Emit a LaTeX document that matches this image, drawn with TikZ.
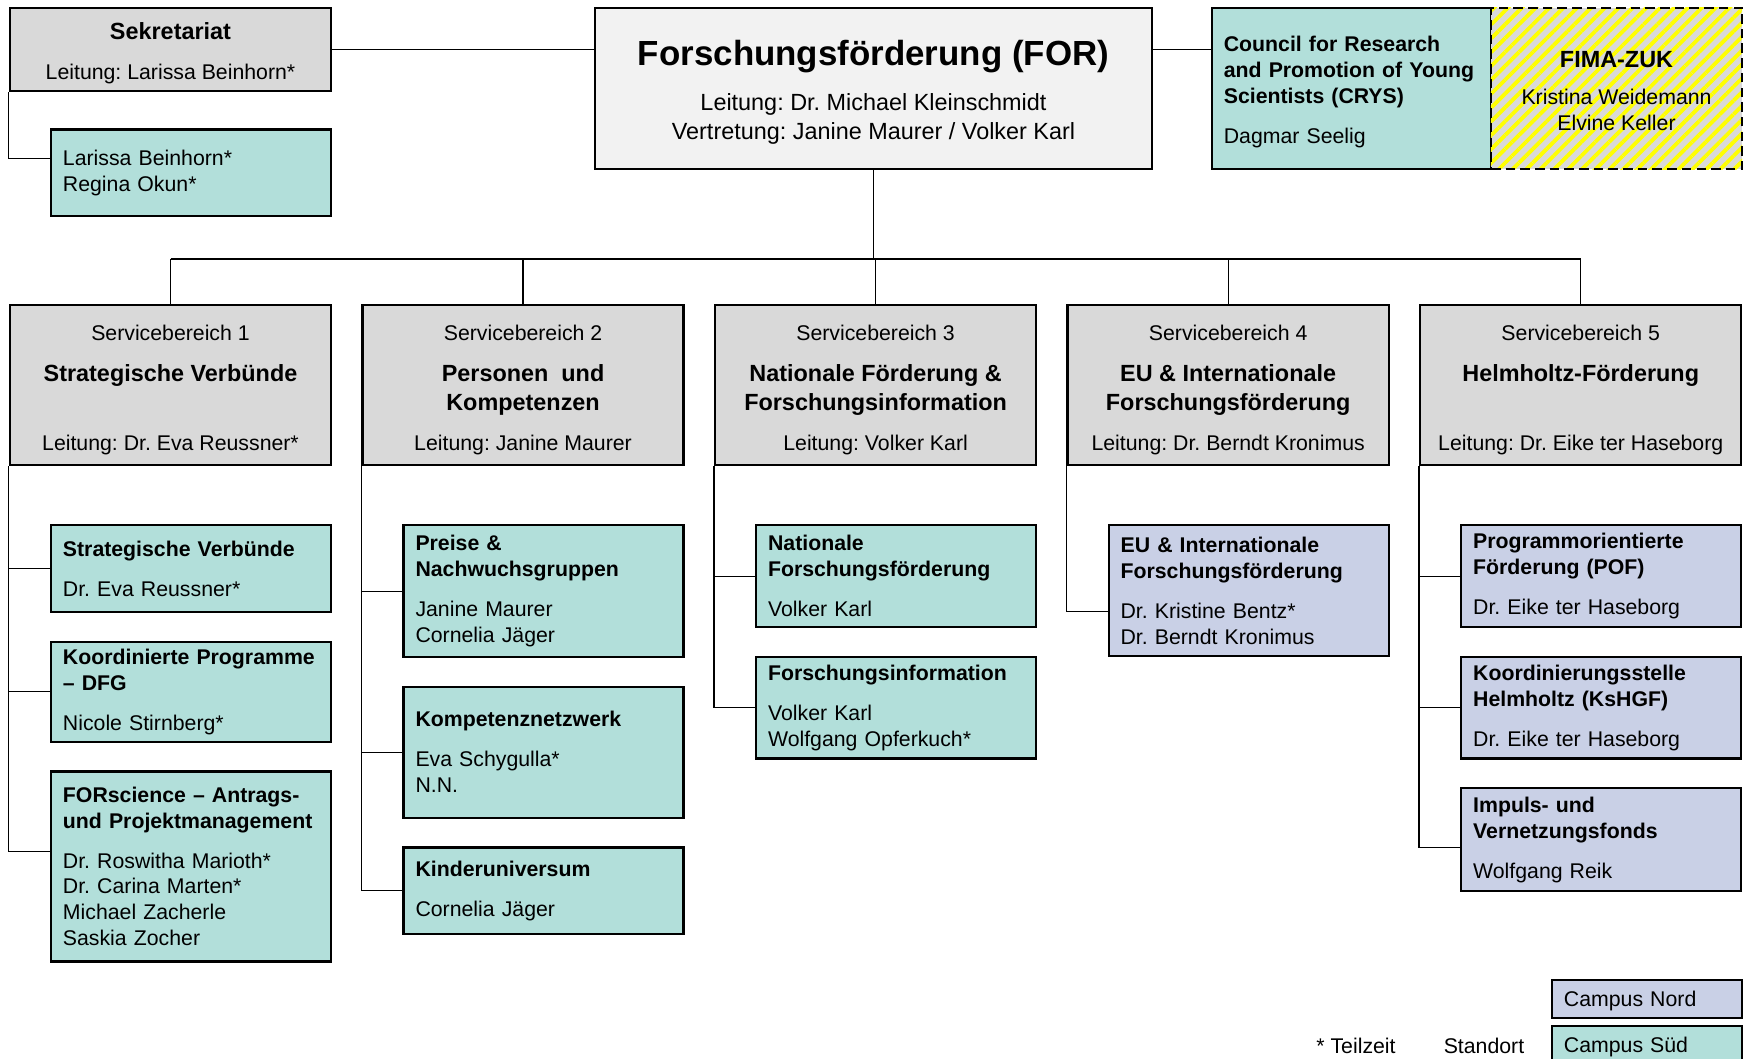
\documentclass[tikz,border=0pt]{standalone}
\usepackage{fontspec}
\setmainfont{Liberation Sans}
\usepackage{xcolor}
\usepackage{tikz}
\usetikzlibrary{positioning,calc,patterns.meta}
\frenchspacing

\definecolor{headgray}{HTML}{D9D9D9}
\definecolor{forgray}{HTML}{F2F2F2}
\definecolor{campsued}{HTML}{B2DFDA}
\definecolor{campnord}{HTML}{C9D0E6}

\begin{document}
\begin{tikzpicture}[
    x=0.47pt, y=-0.47pt,
    node distance=12.8pt,
    every node/.style={font=\fontsize{10pt}{12.2pt}\selectfont},
    head/.style={draw, line width=1.1pt, fill=headgray, minimum width=150.9pt, minimum height=75.2pt, align=center},
    team/.style={draw, line width=1.1pt, fill=campsued, text width=120.4pt, inner xsep=5.6pt, align=left},
    nordteam/.style={team, fill=campnord},
    legend/.style={draw, line width=1.1pt, text width=78.1pt, inner xsep=5.6pt, minimum height=17.9pt, text depth=0.5pt, align=left},
    link/.style={line width=0.6pt}
]
\useasboundingbox (0,0) rectangle (1745,1059);
\clip (0,0) rectangle (1745,1059);

% Leitung und Stabsstellen
\node[head, minimum height=39pt] (sek) at (170.5,49.5) {\rule{0pt}{11.6pt}{\fontsize{11pt}{13pt}\selectfont\bfseries Sekretariat}\\[6.3pt]Leitung: Larissa Beinhorn*};
\node[team, minimum height=40.6pt, anchor=north east] (sekteam) at ([yshift=-17pt]sek.south east) {Larissa Beinhorn*\\Regina Okun*};
\node[draw, line width=1.1pt, fill=forgray, minimum width=261.8pt, minimum height=75.7pt, align=center, font=\fontsize{11pt}{13.6pt}\selectfont] (forbox) at (873.5,88.5) {\rule{0pt}{15.4pt}{\fontsize{16.4pt}{19pt}\selectfont\bfseries Forschungsförderung (FOR)}\\[7.3pt]Leitung: Dr. Michael Kleinschmidt\\Vertretung: Janine Maurer / Volker Karl};
\node[draw, line width=1.1pt, fill=campsued, minimum height=75.7pt, text width=120pt, inner xsep=5.6pt, align=left] (crys) at (1351.5,88.5) {\rule{0pt}{10.5pt}\textbf{Council for Research and Promotion of Young Scientists (CRYS)}\\[6.6pt]Dagmar Seelig};
\node[draw, line width=1.3pt, dash pattern=on 4.5pt off 2.4pt, preaction={fill=headgray}, pattern={Lines[angle=45,distance=4.6pt,line width=1.8pt]}, pattern color=yellow, minimum width=118pt, minimum height=75.7pt, align=center] (fima) at (1616.5,88.5) {\rule{0pt}{9.9pt}{\fontsize{11pt}{13pt}\selectfont\bfseries FIMA-ZUK}\\[4.9pt]Kristina Weidemann\\Elvine Keller};

% Servicebereiche
\node[head] (sb1) at (170.5,385) {\rule{0pt}{11.5pt}Servicebereich 1\\[7.4pt]{\fontsize{11pt}{13pt}\selectfont\bfseries Strategische Verbünde}\\[19.9pt]Leitung: Dr. Eva Reussner*};
\node[head, right=13.7pt of sb1] (sb2) {\rule{0pt}{11.5pt}Servicebereich 2\\[7.4pt]{\fontsize{11pt}{13pt}\selectfont\bfseries Personen\ \ und}\\[1.4pt]{\fontsize{11pt}{13pt}\selectfont\bfseries Kompetenzen}\\[6.3pt]Leitung: Janine Maurer};
\node[head, right=13.7pt of sb2] (sb3) {\rule{0pt}{11.5pt}Servicebereich 3\\[7.4pt]{\fontsize{11pt}{13pt}\selectfont\bfseries Nationale Förderung \&}\\[1.4pt]{\fontsize{11pt}{13pt}\selectfont\bfseries Forschungsinformation}\\[6.3pt]Leitung: Volker Karl};
\node[head, right=13.7pt of sb3] (sb4) {\rule{0pt}{11.5pt}Servicebereich 4\\[7.4pt]{\fontsize{11pt}{13pt}\selectfont\bfseries EU \& Internationale}\\[1.4pt]{\fontsize{11pt}{13pt}\selectfont\bfseries Forschungsförderung}\\[6.3pt]Leitung: Dr. Berndt Kronimus};
\node[head, right=13.7pt of sb4] (sb5) {\rule{0pt}{11.5pt}Servicebereich 5\\[7.4pt]{\fontsize{11pt}{13pt}\selectfont\bfseries Helmholtz-Förderung}\\[19.9pt]Leitung: Dr. Eike ter Haseborg};

% Teams SB 1
\node[team, minimum height=40.9pt, anchor=north east] (sv) at ([yshift=-27.2pt]sb1.south east) {\textbf{Strategische Verbünde}\\[6.6pt]Dr. Eva Reussner*};
\node[team, minimum height=47pt, below=of sv] (kp) {\textbf{Koordinierte Programme}\\\textbf{– DFG}\\[6.6pt]Nicole Stirnberg*};
\node[team, minimum height=89.3pt, below=of kp] (fs) {\textbf{FORscience – Antrags-}\\\textbf{und Projektmanagement}\\[6.6pt]Dr. Roswitha Marioth*\\Dr. Carina Marten*\\Michael Zacherle\\Saskia Zocher};

% Teams SB 2
\node[team, minimum height=62pt, anchor=north east] (pn) at ([yshift=-27.2pt]sb2.south east) {\textbf{Preise \&}\\\textbf{Nachwuchsgruppen}\\[6.6pt]Janine Maurer\\Cornelia Jäger};
\node[team, minimum height=61.6pt, below=of pn] (kn) {\textbf{Kompetenznetzwerk}\\[6.6pt]Eva Schygulla*\\N.N.};
\node[team, minimum height=40.6pt, below=of kn] (ku) {\textbf{Kinderuniversum}\\[6.6pt]Cornelia Jäger};

% Teams SB 3
\node[team, minimum height=47.9pt, anchor=north east] (nf) at ([yshift=-27.2pt]sb3.south east) {\textbf{Nationale}\\\textbf{Forschungsförderung}\\[6.6pt]Volker Karl};
\node[team, minimum height=47.9pt, below=of nf] (fi) {\textbf{Forschungsinformation}\\[6.6pt]Volker Karl\\Wolfgang Opferkuch*};

% Teams SB 4
\node[nordteam, minimum height=61.5pt, anchor=north east] (eu) at ([yshift=-27.2pt]sb4.south east) {\textbf{EU \& Internationale}\\\textbf{Forschungsförderung}\\[6.6pt]Dr. Kristine Bentz*\\Dr. Berndt Kronimus};

% Teams SB 5
\node[nordteam, minimum height=47.9pt, anchor=north east] (pof) at ([yshift=-27.2pt]sb5.south east) {\textbf{Programmorientierte}\\\textbf{Förderung (POF)}\\[6.6pt]Dr. Eike ter Haseborg};
\node[nordteam, minimum height=47.9pt, below=of pof] (ks) {\textbf{Koordinierungsstelle}\\\textbf{Helmholtz (KsHGF)}\\[6.6pt]Dr. Eike ter Haseborg};
\node[nordteam, minimum height=48.4pt, below=of ks] (ivf) {\textbf{Impuls- und}\\\textbf{Vernetzungsfonds}\\[6.6pt]Wolfgang Reik};

% Legende
\node[legend, fill=campnord] (nord) at (1647,999) {Campus Nord};
\node[legend, fill=campsued] (sued) at (1647,1045) {Campus Süd};
\node (teilzeit) at (1356,1046) {* Teilzeit};
\node (standort) at (1484,1046) {Standort};

% Verbindungen
\draw[link] (sek.east) -- (sek.east -| forbox.west);
\draw[link] (sek.east -| forbox.east) -- (sek.east -| crys.west);
\draw[link] (sek.south west) |- ([yshift=6.5pt]sekteam.west);
\coordinate (bus) at (874,259);
\draw[link] (forbox.south) -- (forbox.south |- bus);
\draw[link] (sb1.north |- bus) -- (sb5.north |- bus);
\draw[link] (sb1.north |- bus) -- (sb1.north);
\draw[link] (sb2.north |- bus) -- (sb2.north);
\draw[link] (sb3.north |- bus) -- (sb3.north);
\draw[link] (sb4.north |- bus) -- (sb4.north);
\draw[link] (sb5.north |- bus) -- (sb5.north);

\draw[link] (sb1.south west) |- (sv.west);
\draw[link] (sb1.south west) |- (kp.west);
\draw[link] (sb1.south west) |- ([yshift=7pt]fs.west);
\draw[link] (sb2.south west) |- (pn.west);
\draw[link] (sb2.south west) |- (kn.west);
\draw[link] (sb2.south west) |- (ku.west);
\draw[link] (sb3.south west) |- (nf.west);
\draw[link] (sb3.south west) |- (fi.west);
\draw[link] (sb4.south west) |- ([yshift=-9.9pt]eu.west);
\draw[link] (sb5.south west) |- (pof.west);
\draw[link] (sb5.south west) |- (ks.west);
\draw[link] (sb5.south west) |- ([yshift=-3.8pt]ivf.west);
\end{tikzpicture}
\end{document}
